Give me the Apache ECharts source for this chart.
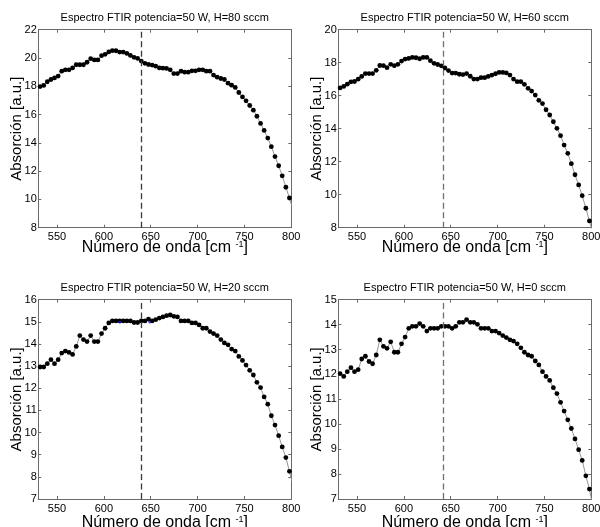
<!DOCTYPE html>
<html><head><meta charset="utf-8">
<script src="https://cdn.jsdelivr.net/npm/echarts@6/dist/echarts.min.js"></script>
<style>html,body{margin:0;padding:0;background:#fff}#c{width:600px;height:527px}</style>
</head><body><div id="c"></div>
<script>
const wavenumber = [531.9,535.8,539.6,543.5,547.3,551.2,555.0,558.9,562.8,566.6,
  570.5,574.3,578.2,582.0,585.9,589.8,593.6,597.5,601.3,605.2,
  609.0,612.9,616.8,620.6,624.5,628.3,632.2,636.0,639.9,643.8,
  647.6,651.5,655.3,659.2,663.0,666.9,670.8,674.6,678.5,682.3,
  686.2,690.0,693.9,697.8,701.6,705.5,709.3,713.2,717.0,720.9,
  724.8,728.6,732.5,736.3,740.2,744.0,747.9,751.7,755.6,759.5,
  763.3,767.2,771.0,774.9,778.7,782.6,786.5,790.3,794.2,798.0,801.9];

const absH80 = [17.98,18.06,18.32,18.48,18.59,18.72,19.07,19.16,19.16,19.30,
  19.52,19.52,19.52,19.70,19.95,19.86,19.86,20.16,20.26,20.43,
  20.52,20.51,20.42,20.42,20.32,20.18,20.05,19.97,19.78,19.62,
  19.54,19.50,19.42,19.30,19.28,19.26,19.16,18.90,18.90,19.07,
  19.00,19.00,19.09,19.09,19.16,19.16,19.07,19.07,18.79,18.64,
  18.55,18.48,18.22,18.08,17.92,17.56,17.25,16.97,16.64,16.31,
  15.88,15.37,14.88,14.34,13.73,13.03,12.38,11.67,10.86,10.10,9.25];

const absH60 = [16.47,16.56,16.70,16.84,16.86,17.00,17.17,17.34,17.34,17.34,
  17.54,17.83,17.82,17.70,17.90,17.82,17.90,18.10,18.22,18.26,
  18.32,18.30,18.24,18.32,18.32,18.12,17.96,17.89,17.81,17.68,
  17.52,17.37,17.37,17.30,17.28,17.34,17.18,17.01,17.01,17.09,
  17.09,17.17,17.25,17.33,17.41,17.41,17.38,17.25,17.01,16.85,
  16.85,16.69,16.45,16.28,16.04,15.72,15.52,15.15,14.83,14.42,
  14.02,13.58,13.01,12.51,11.88,11.21,10.59,9.94,9.18,8.41,7.6];

const absH20 = [12.96,12.96,13.11,13.29,13.11,13.29,13.59,13.68,13.62,13.53,
  13.89,14.38,14.20,14.11,14.38,14.11,14.11,14.47,14.71,14.95,
  15.04,15.04,15.04,15.04,15.04,15.04,14.97,14.97,15.04,15.04,
  15.12,15.04,15.10,15.17,15.22,15.28,15.31,15.25,15.22,15.04,
  15.04,15.04,14.95,14.95,14.86,14.71,14.71,14.56,14.47,14.38,
  14.20,14.05,13.96,13.77,13.68,13.44,13.26,13.05,12.81,12.60,
  12.27,12.03,11.61,11.28,10.76,10.34,9.86,9.35,8.87,8.25,7.6];

const absH0 = [12.03,11.92,12.11,12.27,12.11,12.19,12.62,12.73,12.52,12.43,
  12.78,13.39,13.13,13.05,13.31,12.89,12.89,13.23,13.50,13.85,
  13.93,13.93,14.04,13.93,13.74,13.85,13.85,13.85,13.93,13.93,
  13.93,13.85,13.93,14.09,14.09,14.20,14.09,14.09,14.01,13.85,
  13.85,13.85,13.74,13.74,13.66,13.56,13.48,13.39,13.34,13.23,
  13.07,12.89,12.78,12.73,12.54,12.38,12.11,11.92,11.76,11.47,
  11.23,10.88,10.53,10.18,9.83,9.41,8.98,8.55,7.93,7.40,6.65];

// small blue points visible in the H=20 panel
const blueX = [617.2, 648.9];
const blueY = [14.98, 14.98];

const titles = ['Espectro FTIR potencia=50 W, H=80 sccm','Espectro FTIR potencia=50 W, H=60 sccm',
  'Espectro FTIR potencia=50 W, H=20 sccm','Espectro FTIR potencia=50 W, H=0 sccm'];
const series4 = [absH80, absH60, absH20, absH0];
const yMins = [8, 8, 7, 7];
const yMaxs = [22, 20, 16, 15];
const ySteps = [2, 2, 1, 1];
const dashX = [640, 642, 640, 642];
const xTicks = [550, 600, 650, 700, 750, 800];
const xMin = 530, xMax = 800;

const FONT = '"Liberation Sans", Arial, Helvetica, sans-serif';
const frame = '#6a6a6a';
const dashColors = ['#3a3a3a', '#707070', '#3a3a3a', '#707070'];
const grids = [
  {left: 38.3, top: 29.7, width: 253, height: 198},
  {left: 338.3, top: 29.7, width: 253, height: 198},
  {left: 38.3, top: 299.7, width: 253, height: 199.3},
  {left: 338.3, top: 299.7, width: 253, height: 199.3}
];
const titleTops = [12.5, 12.5, 282, 282];
const xNameGaps = [12, 12, 16, 16];

const xAxes = [], yAxes = [], series = [], titleArr = [];
grids.forEach((g, k) => {
  titleArr.push({text: titles[k], left: g.left + g.width / 2, top: titleTops[k], textAlign: 'center', padding: 0,
    textStyle: {fontSize: 11, fontWeight: 'normal', color: '#000', fontFamily: FONT}});
  const fmt = v => (v % 50 === 0 ? String(v) : '');
  xAxes.push({gridIndex: k, type: 'value', min: xMin, max: xMax, position: 'bottom',
    axisLine: {show: true, onZero: false, lineStyle: {color: frame, width: 1}},
    axisTick: {show: true, inside: true, length: 3, customValues: xTicks, lineStyle: {color: frame}},
    axisLabel: {show: true, customValues: xTicks, formatter: fmt, color: '#000', fontSize: 11, margin: 4, fontFamily: FONT},
    splitLine: {show: false},
    name: '{a|Número de onda [cm }{s|-1}{a|]}', nameLocation: 'middle', nameGap: xNameGaps[k], nameMoveOverlap: false,
    nameTextStyle: {rich: {a: {fontSize: 16, color: '#000', fontFamily: FONT},
      s: {fontSize: 9, color: '#000', fontFamily: FONT, verticalAlign: 'top', padding: [0, 0, 6, 0]}}}
  });
  xAxes.push({gridIndex: k, type: 'value', min: xMin, max: xMax, position: 'top',
    axisLine: {show: true, onZero: false, lineStyle: {color: frame, width: 1}},
    axisTick: {show: true, inside: true, length: 3, customValues: xTicks, lineStyle: {color: frame}},
    axisLabel: {show: false}, splitLine: {show: false}
  });
  yAxes.push({gridIndex: k, type: 'value', min: yMins[k], max: yMaxs[k], interval: ySteps[k], position: 'left',
    axisLine: {show: true, onZero: false, lineStyle: {color: frame, width: 1}},
    axisTick: {show: true, inside: true, length: 3, lineStyle: {color: frame}},
    axisLabel: {color: '#000', fontSize: 11, margin: 1.5, fontFamily: FONT},
    splitLine: {show: false},
    name: 'Absorción [a.u.]', nameLocation: 'middle', nameGap: 13.5, nameMoveOverlap: false,
    nameTextStyle: {fontSize: 15, color: '#000', fontFamily: FONT}
  });
  yAxes.push({gridIndex: k, type: 'value', min: yMins[k], max: yMaxs[k], interval: ySteps[k], position: 'right',
    axisLine: {show: true, onZero: false, lineStyle: {color: frame, width: 1}},
    axisTick: {show: true, inside: true, length: 3, lineStyle: {color: frame}},
    axisLabel: {show: false}, splitLine: {show: false}
  });
  series.push({type: 'line', xAxisIndex: 2 * k, yAxisIndex: 2 * k, clip: true,
    data: wavenumber.map((x, i) => [x, series4[k][i]]),
    symbol: 'circle', symbolSize: 4.8, showAllSymbol: true,
    itemStyle: {color: '#000'}, lineStyle: {color: '#8a8a8a', width: 0.9},
    emphasis: {disabled: true},
    markLine: {silent: true, symbol: ['none', 'none'], label: {show: false},
      lineStyle: {type: [6, 3.5], color: dashColors[k], width: 1.3},
      emphasis: {disabled: true},
      data: [{xAxis: dashX[k]}]}
  });
});
series.push({type: 'scatter', xAxisIndex: 4, yAxisIndex: 4, z: 5,
  data: blueX.map((x, i) => [x, blueY[i]]), symbolSize: 2.5, itemStyle: {color: '#1010ff'}});

const chart = echarts.init(document.getElementById('c'), null, {renderer: 'canvas'});
chart.setOption({animation: false, backgroundColor: '#fff', title: titleArr,
  grid: grids.map(g => Object.assign({containLabel: false, outerBoundsMode: 'none'}, g)),
  xAxis: xAxes, yAxis: yAxes, series: series});
</script></body></html>
